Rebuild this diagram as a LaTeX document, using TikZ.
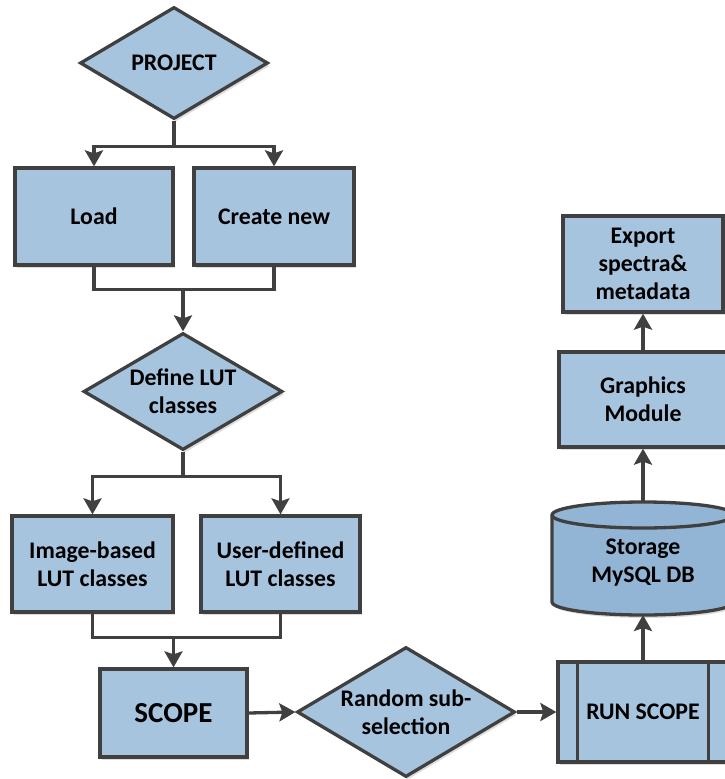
\documentclass[tikz,border=0pt]{standalone}
\usepackage{fontspec}
\setmainfont{Carlito}
\usetikzlibrary{arrows.meta,shapes.geometric,shadows}
\definecolor{boxfill}{RGB}{167,196,223}
\definecolor{dbfill}{RGB}{146,181,214}
\definecolor{edge}{RGB}{64,64,64}
\begin{document}
\begin{tikzpicture}[x=1pt,y=-1pt,
  outline/.style={draw=edge, line width=3.3pt},
  base/.style={outline, fill=boxfill, inner sep=0pt, align=center,
    font=\bfseries\fontsize{23.8}{28}\selectfont,
    drop shadow={shadow xshift=2pt, shadow yshift=-3pt, fill=black!22, opacity=0.6}},
  box/.style={base, rectangle},
  decision/.style={base, diamond},
  link/.style={draw=edge, line width=3.3pt},
  arrow/.style={link, -{Stealth[width=18pt,length=16pt,inset=3pt]}}
]
\useasboundingbox (0,0) rectangle (725,779);

% first column
\node[decision, minimum width=188pt, minimum height=112pt, aspect=1.68] (proj) at (174,63) {PROJECT};
\node[box, minimum width=158pt, minimum height=97pt] (load) at (94,216.5) {Load};
\node[box, minimum width=160pt, minimum height=97pt] (create) at (274,216.5) {Create new};
\node[decision, minimum width=199pt, minimum height=117pt, aspect=1.7] (define) at (183,391.5) {Define LUT\\classes};
\node[box, minimum width=161pt, minimum height=96pt] (img) at (92.5,564) {Image-based\\LUT classes};
\node[box, minimum width=159pt, minimum height=96pt] (usr) at (280.5,564) {User-defined\\LUT classes};
\node[box, minimum width=147pt, minimum height=88pt, font=\bfseries\fontsize{29}{34}\selectfont] (scope) at (173.5,713) {SCOPE};

% bottom row
\node[decision, minimum width=218pt, minimum height=130pt, aspect=1.68] (rnd) at (406,712) {Random sub-\\selection};
\node[box, minimum width=170pt, minimum height=100pt] (run) at (643,712) {RUN SCOPE};
\draw[outline] ([xshift=21pt]run.north west) -- ([xshift=21pt]run.south west);
\draw[outline] ([xshift=-21pt]run.north east) -- ([xshift=-21pt]run.south east);

% database cylinder
\coordinate (dbtop) at (643,502);
\coordinate (dbbot) at (643,615);
\fill[black!22, opacity=0.6, shift={(2,3)}]
  (552,515) -- (552,602) arc[start angle=180, end angle=0, x radius=91, y radius=13]
  -- (734,515) arc[start angle=0, end angle=-180, x radius=91, y radius=13] -- cycle;
\draw[outline, fill=dbfill]
  (552,515) -- (552,602) arc[start angle=180, end angle=0, x radius=91, y radius=13]
  -- (734,515) arc[start angle=0, end angle=-180, x radius=91, y radius=13] -- cycle;
\draw[outline] (552,515) arc[start angle=180, end angle=0, x radius=91, y radius=13];
\node[align=center, inner sep=0pt, font=\bfseries\fontsize{23.8}{28}\selectfont] (db) at (643,563) {Storage\\MySQL DB};

% right column
\node[box, minimum width=168pt, minimum height=95pt] (graphics) at (643,399.5) {Graphics\\Module};
\node[box, minimum width=160pt, minimum height=96pt] (export) at (643,264) {Export\\spectra\&\\metadata};

% connectors
\draw[link] (proj.south) -- ++(0,26) coordinate (j1);
\draw[arrow] (j1) -| (load.north);
\draw[arrow] (j1) -| (create.north);
\draw[link] (load.south) -- ++(0,23) coordinate (j2) -| (create.south);
\draw[arrow] (define.north |- j2) -- (define.north);
\draw[link] (define.south) -- ++(0,25) coordinate (j3);
\draw[arrow] (j3) -| (img.north);
\draw[arrow] (j3) -| (usr.north);
\draw[link] (img.south) -- ++(0,24) coordinate (j4) -| (usr.south);
\draw[arrow] (scope.north |- j4) -- (scope.north);
\draw[arrow] (scope.east) -- (rnd.west);
\draw[arrow] (rnd.east) -- (run.west);
\draw[arrow] (run.north) -- (dbbot);
\draw[arrow] (dbtop) -- (graphics.south);
\draw[arrow] (graphics.north) -- (export.south);
\end{tikzpicture}
\end{document}
